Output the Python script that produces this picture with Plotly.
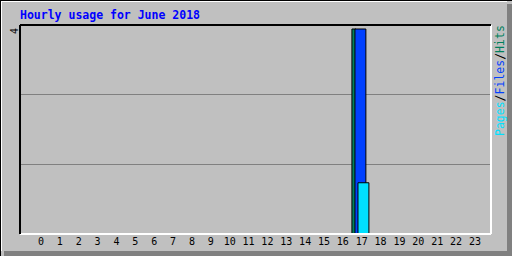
import plotly.graph_objects as go

hours = list(range(24))
hour_labels = [str(h) for h in hours]
hits = [0]*17 + [4] + [0]*6
files = [0]*17 + [4] + [0]*6
pages = [0]*17 + [1] + [0]*6
y_max_label = "4"

W_IMG, H_IMG = 512, 256
L, R, T, B = 20, 21, 25, 22
PW, PH = W_IMG - L - R, H_IMG - T - B

def px(x):
    return (x - L) / PW

def py(y):
    return (H_IMG - B - y) / PH

def nz(v):
    return [x if x else None for x in v]

ymax = 4.078
bg = "#c0c0c0"

fig = go.Figure()
fig.add_trace(go.Bar(x=hours, y=nz(hits), width=0.21, offset=-0.52,
                     marker=dict(color="#00805c", line=dict(color="black", width=1)), name="Hits"))
fig.add_trace(go.Bar(x=hours, y=nz(files), width=0.58, offset=-0.36,
                     marker=dict(color="#0040ff", line=dict(color="black", width=1)), name="Files"))
fig.add_trace(go.Bar(x=hours, y=nz(pages), width=0.58, offset=-0.20,
                     marker=dict(color="#00e0ff", line=dict(color="black", width=1)), name="Pages"))

shapes = []
# outer bevel
shapes.append(dict(type="rect", xref="paper", yref="paper", x0=px(507), x1=px(512), y0=py(256), y1=py(4),
                   fillcolor="#808080", line=dict(width=0), layer="below"))
shapes.append(dict(type="rect", xref="paper", yref="paper", x0=px(4), x1=px(512), y0=py(256), y1=py(251),
                   fillcolor="#808080", line=dict(width=0), layer="below"))
shapes.append(dict(type="line", xref="paper", yref="paper", x0=px(1.5), x1=px(1.5), y0=py(251), y1=py(1),
                   line=dict(color="white", width=1)))
shapes.append(dict(type="line", xref="paper", yref="paper", x0=px(1), x1=px(507), y0=py(1.5), y1=py(1.5),
                   line=dict(color="white", width=1)))
shapes.append(dict(type="line", xref="paper", yref="paper", x0=px(0.5), x1=px(0.5), y0=py(256), y1=py(0),
                   line=dict(color="black", width=1)))
shapes.append(dict(type="line", xref="paper", yref="paper", x0=px(0), x1=px(512), y0=py(0.5), y1=py(0.5),
                   line=dict(color="black", width=1)))
# plot frame
shapes.append(dict(type="line", xref="paper", yref="paper", x0=0, x1=1, y0=0, y1=0,
                   line=dict(color="white", width=2)))
shapes.append(dict(type="line", xref="paper", yref="paper", x0=1, x1=1, y0=0, y1=1,
                   line=dict(color="white", width=2)))
shapes.append(dict(type="line", xref="paper", yref="paper", x0=0, x1=1, y0=1, y1=1,
                   line=dict(color="black", width=2)))
shapes.append(dict(type="line", xref="paper", yref="paper", x0=0, x1=0, y0=0, y1=1,
                   line=dict(color="black", width=2)))

annotations = [
    dict(text="<b>Hourly usage for June 2018</b>", xref="paper", yref="paper", x=px(18), y=py(15),
         xanchor="left", yanchor="middle", showarrow=False,
         font=dict(family="DejaVu Sans Mono", size=11.5, color="#0000ff")),
    dict(text=y_max_label, xref="paper", yref="paper", x=px(14), y=py(31), textangle=-90,
         xanchor="center", yanchor="middle", showarrow=False,
         font=dict(family="DejaVu Sans Mono", size=10, color="black")),
    dict(text="<span style='color:#00e0ff'>Pages</span><span style='color:black'>/</span>"
              "<span style='color:#0040ff'>Files</span><span style='color:black'>/</span>"
              "<span style='color:#00805c'>Hits</span>",
         xref="paper", yref="paper", x=px(500), y=py(81), textangle=-90,
         xanchor="center", yanchor="middle", showarrow=False,
         font=dict(family="DejaVu Sans Mono", size=11.5)),
]

fig.update_layout(
    width=W_IMG, height=H_IMG,
    margin=dict(l=L, r=R, t=T, b=B, pad=0, autoexpand=False),
    paper_bgcolor=bg, plot_bgcolor=bg,
    barmode="overlay", showlegend=False,
    shapes=shapes, annotations=annotations,
    xaxis=dict(range=[-1.11, 23.85], tickvals=hours, ticktext=hour_labels, showgrid=False,
               zeroline=False, showline=False, ticks="", ticklen=0, automargin=False,
               tickfont=dict(family="DejaVu Sans Mono", size=10, color="black")),
    yaxis=dict(range=[0, ymax], tickvals=[ymax/3, 2*ymax/3], showticklabels=False, automargin=False,
               showgrid=True, gridcolor="#808080", gridwidth=1, zeroline=False, showline=False),
)

fig.write_html("out.html")
